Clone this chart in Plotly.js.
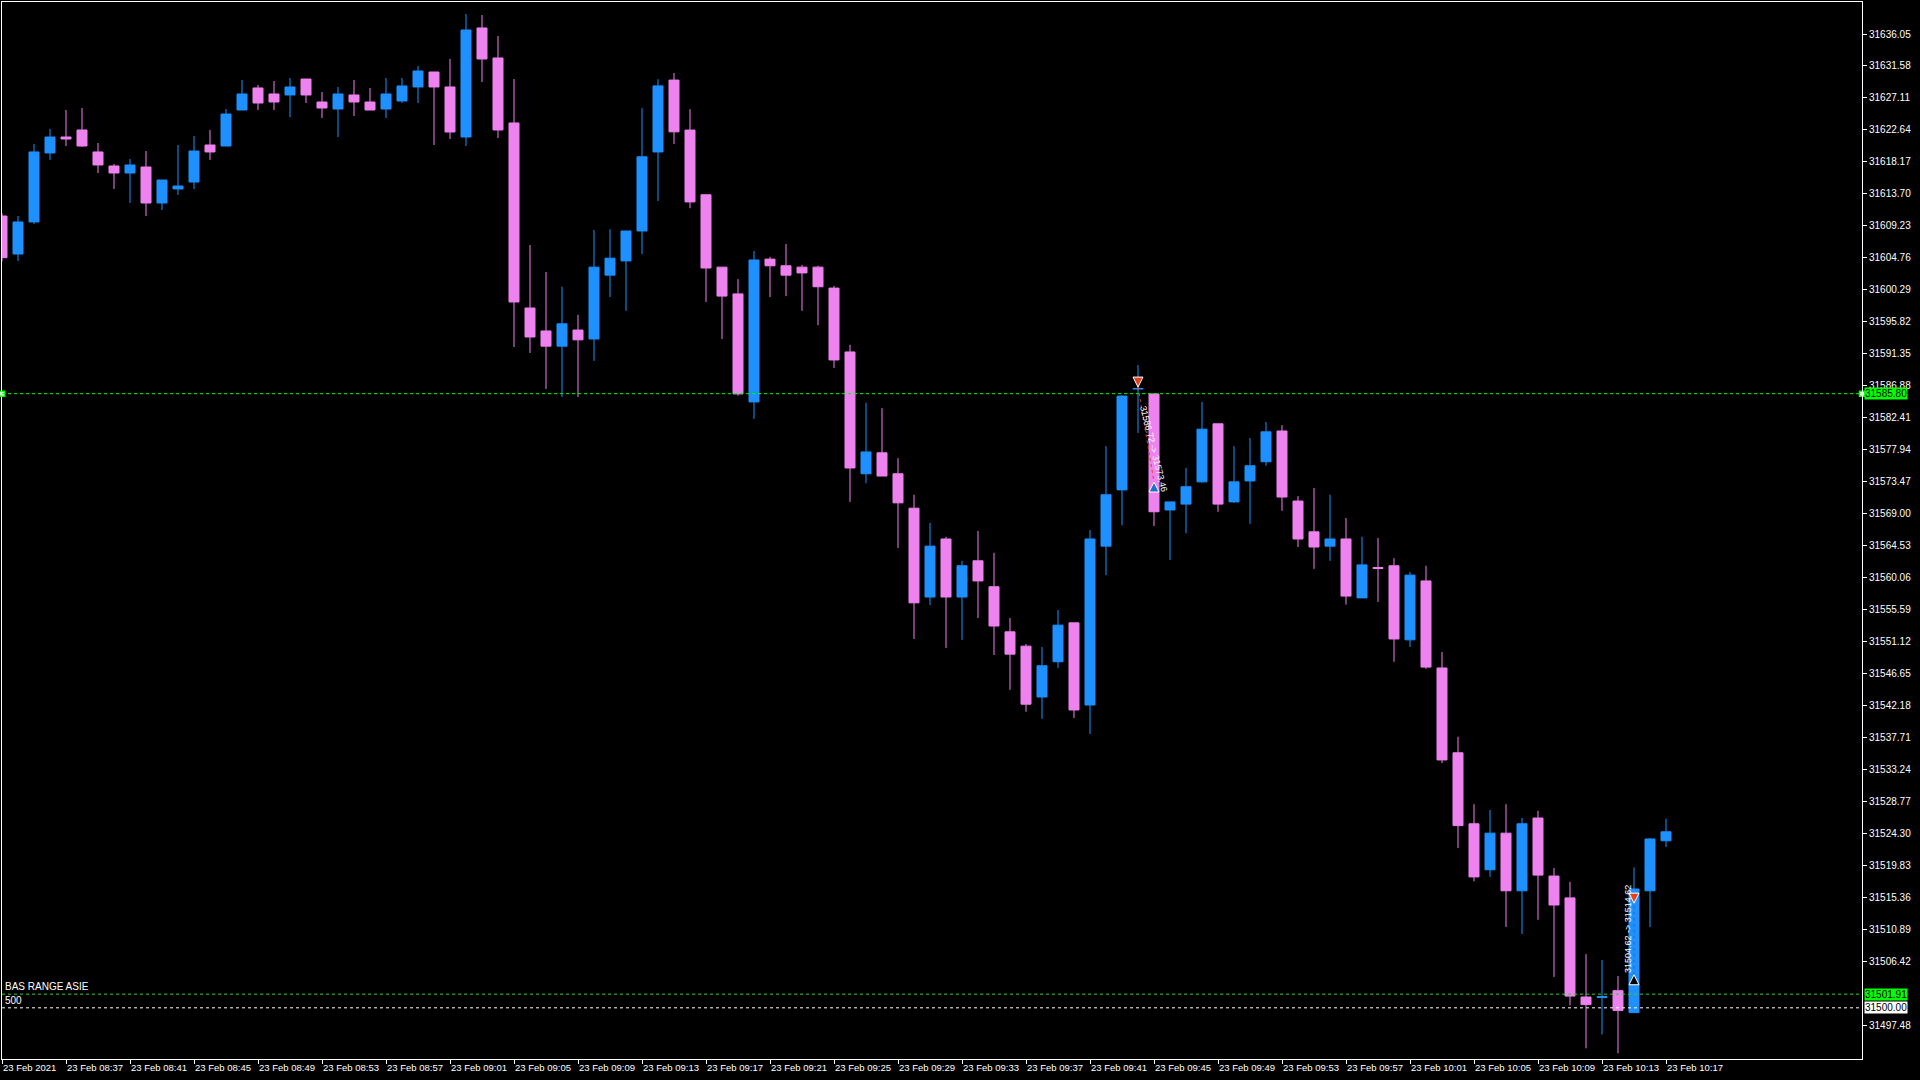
<!DOCTYPE html>
<html>
<head>
<meta charset="utf-8">
<script src="https://cdn.plot.ly/plotly-3.0.1.min.js"></script>
<style>
  html, body { margin: 0; padding: 0; background: #000; }
  #chart { width: 1920px; height: 1080px; }
</style>
</head>
<body>
<div id="chart"></div>
<script>
// one minute bars, 23 Feb 2021
var day = '2021-02-23';
var times = [
  '08:33','08:34','08:35','08:36','08:37','08:38','08:39','08:40','08:41','08:42',
  '08:43','08:44','08:45','08:46','08:47','08:48','08:49','08:50','08:51','08:52',
  '08:53','08:54','08:55','08:56','08:57','08:58','08:59','09:00','09:01','09:02',
  '09:03','09:04','09:05','09:06','09:07','09:08','09:09','09:10','09:11','09:12',
  '09:13','09:14','09:15','09:16','09:17','09:18','09:19','09:20','09:21','09:22',
  '09:23','09:24','09:25','09:26','09:27','09:28','09:29','09:30','09:31','09:32',
  '09:33','09:34','09:35','09:36','09:37','09:38','09:39','09:40','09:41','09:42',
  '09:43','09:44','09:45','09:46','09:47','09:48','09:49','09:50','09:51','09:52',
  '09:53','09:54','09:55','09:56','09:57','09:58','09:59','10:00','10:01','10:02',
  '10:03','10:04','10:05','10:06','10:07','10:08','10:09','10:10','10:11','10:12',
  '10:13','10:14','10:15','10:16','10:17'
];
var opens = [
  31610.62,31605.31,31609.79,31619.43,31621.66,31622.64,31619.57,31617.61,31616.63,31617.47,
  31612.44,31614.40,31615.37,31620.54,31620.40,31625.43,31628.51,31627.67,31627.53,31629.76,
  31626.55,31625.57,31627.53,31626.55,31625.57,31626.69,31628.65,31630.74,31628.65,31621.66,
  31636.89,31632.70,31623.62,31597.77,31594.56,31592.44,31594.69,31593.44,31602.36,31604.35,
  31608.53,31619.57,31629.61,31622.63,31613.59,31603.48,31599.74,31584.65,31604.60,31603.67,
  31603.48,31603.48,31600.55,31591.63,31574.61,31577.54,31574.61,31569.80,31557.39,31565.50,
  31557.39,31562.45,31558.83,31552.53,31550.53,31543.42,31548.35,31553.78,31542.30,31564.50,
  31572.36,31586.45,31585.77,31569.55,31570.37,31573.48,31581.59,31570.68,31573.61,31576.29,
  31580.59,31570.80,31566.50,31564.50,31565.50,31557.27,31561.51,31561.76,31551.41,31559.64,
  31547.48,31535.63,31525.71,31519.29,31524.40,31516.35,31526.52,31518.41,31515.36,31501.51,
  31501.45,31502.39,31499.33,31516.35,31523.34
];
var highs = [
  31611.00,31610.62,31620.68,31622.78,31625.43,31625.71,31620.82,31617.89,31618.59,31619.70,
  31615.65,31620.54,31621.80,31622.64,31625.57,31629.62,31628.93,31629.48,31629.90,31629.76,
  31627.95,31628.65,31629.62,31628.51,31629.90,31629.90,31631.58,31630.74,31632.56,31638.84,
  31638.70,31635.77,31629.76,31606.57,31602.80,31600.74,31596.81,31608.66,31608.78,31608.53,
  31625.68,31629.74,31630.61,31625.56,31613.59,31603.48,31601.80,31605.73,31604.92,31606.72,
  31603.79,31603.67,31600.86,31592.63,31584.52,31583.77,31576.79,31571.67,31567.74,31565.81,
  31562.45,31566.62,31563.57,31554.46,31550.84,31550.41,31555.58,31553.78,31566.75,31578.47,
  31585.60,31589.81,31585.77,31570.68,31575.42,31584.65,31581.59,31578.47,31579.60,31581.84,
  31581.40,31571.49,31572.61,31571.68,31568.43,31565.81,31565.63,31562.82,31560.89,31561.76,
  31549.72,31537.87,31528.45,31527.64,31528.45,31526.52,31527.52,31519.54,31517.60,31507.50,
  31506.69,31504.44,31519.60,31523.71,31526.40
];
var lows = [
  31604.30,31604.34,31609.51,31618.45,31620.40,31620.30,31616.63,31614.40,31612.44,31610.62,
  31611.46,31613.56,31614.40,31618.45,31620.40,31625.43,31625.43,31625.43,31624.45,31626.41,
  31624.31,31621.66,31624.59,31625.43,31624.31,31626.41,31626.41,31620.54,31621.38,31620.40,
  31629.34,31621.52,31592.32,31591.49,31586.46,31585.33,31585.33,31590.38,31599.30,31597.37,
  31605.29,31612.71,31620.69,31611.71,31598.62,31593.44,31585.52,31582.28,31599.30,31599.43,
  31597.37,31595.37,31589.39,31570.68,31573.30,31574.29,31564.25,31551.53,31556.27,31550.28,
  31551.41,31554.46,31549.29,31544.42,31541.36,31540.37,31547.48,31540.49,31538.25,31560.45,
  31567.43,31580.31,31567.31,31562.57,31566.31,31573.36,31569.30,31570.55,31567.62,31575.73,
  31569.43,31564.38,31561.32,31562.44,31556.33,31557.27,31556.71,31548.35,31550.41,31547.35,
  31534.19,31522.34,31517.67,31518.29,31511.30,31510.31,31512.30,31504.32,31500.33,31494.34,
  31496.27,31493.65,31499.33,31511.30,31522.47
];
var closes = [
  31604.80,31609.79,31619.57,31621.66,31621.38,31620.40,31617.75,31616.63,31617.75,31612.44,
  31615.65,31614.81,31619.70,31619.57,31624.87,31627.67,31626.41,31626.55,31628.65,31627.53,
  31625.71,31627.67,31626.55,31625.43,31627.67,31628.79,31630.88,31628.65,31622.36,31636.61,
  31632.56,31622.64,31598.61,31593.72,31592.44,31595.56,31593.32,31603.48,31604.73,31608.53,
  31618.89,31628.80,31622.38,31612.59,31603.36,31599.43,31585.77,31604.48,31603.67,31602.36,
  31602.67,31600.74,31590.51,31575.42,31577.66,31574.29,31570.55,31556.58,31564.50,31557.39,
  31561.76,31559.64,31553.34,31549.41,31542.42,31547.79,31553.46,31541.61,31565.50,31571.68,
  31585.46,31586.52,31569.30,31570.68,31572.80,31580.84,31570.37,31573.48,31575.73,31580.47,
  31571.36,31565.50,31564.38,31565.50,31557.52,31561.88,31561.38,31551.53,31560.45,31547.60,
  31534.63,31525.46,31518.29,31524.40,31516.35,31525.71,31518.54,31514.36,31501.64,31500.45,
  31501.55,31499.64,31516.60,31523.59,31524.59
];

// price scale labels (31501.95 sits under the level box, so it is left out)
var yTicks = [
  31497.48,31506.42,31510.89,31515.36,31519.83,31524.30,31528.77,31533.24,31537.71,
  31542.18,31546.65,31551.12,31555.59,31560.06,31564.53,31569.00,31573.47,31577.94,31582.41,
  31586.88,31591.35,31595.82,31600.29,31604.76,31609.23,31613.70,31618.17,31622.64,31627.11,
  31631.58,31636.05
];

// horizontal levels drawn on the chart
var levelPrices = [31585.80, 31501.91, 31500.00];
var levelNames = ['', 'BAS RANGE ASIE', '500'];

// closed trades
var tradeOpenTimes = ['09:44', '10:15'];
var tradeCloseTimes = ['09:45', '10:15'];
var tradeOpenPrices = [31586.72, 31504.62];
var tradeClosePrices = [31573.46, 31514.62];

var levelColors = ['#00ff00', '#33cc33', '#ffffff'];
var levelBoxColors = ['#00ff00', '#00ff00', '#ffffff'];
var tradeColors = ['#e8401c', '#1f6fd0'];

function ts(t) { return day + ' ' + t; }
var xs = times.map(ts);
var xEnd = day + ' 10:29:15';

var font = 'Liberation Sans, Arial, sans-serif';

var data = [{
  type: 'candlestick',
  x: xs,
  open: opens,
  high: highs,
  low: lows,
  close: closes,
  increasing: { line: { color: '#1e90ff', width: 1 }, fillcolor: '#1e90ff' },
  decreasing: { line: { color: '#ee82ee', width: 1 }, fillcolor: '#ee82ee' },
  whiskerwidth: 0,
  hoverinfo: 'skip',
  showlegend: false
}];

// trade connecting lines
for (var k = 0; k < tradeOpenTimes.length; k++) {
  data.push({
    type: 'scatter', mode: 'lines',
    x: [ts(tradeOpenTimes[k]), ts(tradeCloseTimes[k])],
    y: [tradeOpenPrices[k], tradeClosePrices[k]],
    line: { color: tradeColors[k], width: 1, dash: '3px,3px' },
    hoverinfo: 'skip', showlegend: false
  });
}

// trade arrows
data.push({
  type: 'scatter', mode: 'markers',
  x: [ts(tradeOpenTimes[0]), ts(tradeCloseTimes[0]), ts(tradeOpenTimes[1]), ts(tradeCloseTimes[1])],
  y: [tradeOpenPrices[0], tradeClosePrices[0], tradeOpenPrices[1], tradeClosePrices[1]],
  marker: {
    symbol: ['arrow-down', 'arrow-up', 'arrow-up', 'arrow-down'],
    size: 10,
    color: ['#e8401c', '#1e6fc8', '#000000', '#e8401c'],
    line: { color: '#ffffff', width: 1 }
  },
  cliponaxis: false, hoverinfo: 'skip', showlegend: false
});

// end squares on the main level
data.push({
  type: 'scatter', mode: 'markers',
  x: [xs[0], xEnd],
  y: [levelPrices[0], levelPrices[0]],
  marker: { symbol: 'square', size: 5, color: '#ffffff', line: { color: '#00ff00', width: 1.5 } },
  cliponaxis: false, hoverinfo: 'skip', showlegend: false
});

var shapes = [];
var annotations = [];
for (var i = 0; i < levelPrices.length; i++) {
  shapes.push({
    type: 'line', xref: 'paper', x0: 0, x1: 1, yref: 'y', y0: levelPrices[i], y1: levelPrices[i],
    line: { color: levelColors[i], width: 1, dash: '3px,3px' }, layer: 'above'
  });
  annotations.push({
    xref: 'paper', x: 1, xanchor: 'left', xshift: 2,
    yref: 'y', y: levelPrices[i], yanchor: 'middle',
    text: levelPrices[i].toFixed(2), showarrow: false,
    bgcolor: levelBoxColors[i], borderpad: 0,
    font: { family: font, size: 10, color: '#000000' }
  });
  if (levelNames[i]) {
    annotations.push({
      xref: 'paper', x: 0, xanchor: 'left', xshift: 1,
      yref: 'y', y: levelPrices[i], yanchor: 'bottom', yshift: 0,
      text: levelNames[i], showarrow: false,
      font: { family: font, size: 10, color: '#ffffff' }
    });
  }
}

// trade labels
annotations.push({
  x: ts(tradeCloseTimes[0]), y: (tradeOpenPrices[0] + tradeClosePrices[0]) / 2,
  xref: 'x', yref: 'y', yshift: -14, textangle: 76,
  text: tradeOpenPrices[0].toFixed(2) + ' -> ' + tradeClosePrices[0].toFixed(2),
  showarrow: false, font: { family: font, size: 9, color: '#ffffff' }
});
annotations.push({
  x: ts(tradeOpenTimes[1]), y: (tradeOpenPrices[1] + tradeClosePrices[1]) / 2,
  xref: 'x', yref: 'y', xshift: -6, yshift: 10, textangle: -90,
  text: tradeOpenPrices[1].toFixed(2) + ' -> ' + tradeClosePrices[1].toFixed(2),
  showarrow: false, font: { family: font, size: 9, color: '#ffffff' }
});

var tickVals = [], tickText = [];
for (var j = 0; j < times.length; j += 4) {
  tickVals.push(xs[j]);
  tickText.push(j === 0 ? '23 Feb 2021' : '23 Feb ' + times[j]);
}

var layout = {
  width: 1920,
  height: 1080,
  margin: { l: 2, r: 58, t: 2, b: 21 },
  paper_bgcolor: '#000000',
  plot_bgcolor: '#000000',
  showlegend: false,
  hovermode: false,
  boxgap: 0.375,
  boxgroupgap: 0,
  font: { family: font, size: 10, color: '#ffffff' },
  xaxis: {
    type: 'date',
    range: [xs[0], xEnd],
    rangeslider: { visible: false },
    showgrid: false, zeroline: false,
    showline: true, linecolor: '#ffffff', linewidth: 1, mirror: true,
    ticks: 'outside', ticklen: 4, tickcolor: '#ffffff', tickwidth: 1,
    tickmode: 'array', tickvals: tickVals, ticktext: tickText,
    tickangle: 0,
    ticklabelposition: 'outside right',
    tickfont: { family: font, size: 9.5, color: '#ffffff' }
  },
  yaxis: {
    side: 'right',
    range: [31492.85, 31640.52],
    showgrid: false, zeroline: false,
    showline: true, linecolor: '#ffffff', linewidth: 1, mirror: true,
    ticks: 'outside', ticklen: 4, tickcolor: '#ffffff', tickwidth: 1,
    tickmode: 'array', tickvals: yTicks, ticktext: yTicks.map(function (v) { return v.toFixed(2); }),
    tickfont: { family: font, size: 10, color: '#ffffff' }
  },
  shapes: shapes,
  annotations: annotations
};

Plotly.newPlot('chart', data, layout, { displayModeBar: false, staticPlot: true });
</script>
</body>
</html>
